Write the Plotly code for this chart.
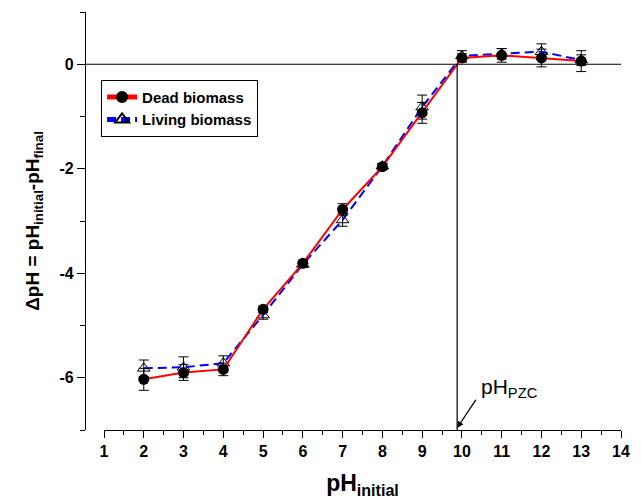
import plotly.graph_objects as go

ph_initial = [2, 3, 4, 5, 6, 7, 8, 9, 10, 11, 12, 13]
dead = [-6.03, -5.90, -5.84, -4.69, -3.81, -2.78, -1.96, -0.93, 0.12, 0.17, 0.12, 0.06]
dead_err = [0.21, 0.15, 0.12, 0.06, 0.06, 0.11, 0.06, 0.20, 0.08, 0.13, 0.17, 0.20]
living = [-5.82, -5.80, -5.72, -4.80, -3.83, -2.98, -1.95, -0.82, 0.16, 0.20, 0.24, 0.08]
living_err = [0.16, 0.20, 0.14, 0.08, 0.06, 0.12, 0.05, 0.23, 0.10, 0.10, 0.15, 0.10]
ph_pzc = 9.88
y_tickvals = [0, -2, -4, -6]
y_ticktext = ["0", "-2", "-4", "-6"]

FONT = "Liberation Sans, Arial, sans-serif"

fig = go.Figure()

fig.add_trace(go.Scatter(
    x=ph_initial, y=living, name="Living biomass", mode="lines+markers",
    line=dict(color="#0000ff", width=2, dash="9px,5px"),
    marker=dict(symbol="triangle-up-open", size=11, color="black", line=dict(width=1, color="black")),
    error_y=dict(type="data", array=living_err, color="black", thickness=1, width=5),
    legendrank=2,
))
fig.add_trace(go.Scatter(
    x=ph_initial, y=dead, name="Dead biomass", mode="lines+markers",
    line=dict(color="#ff0000", width=2),
    marker=dict(symbol="circle", size=11, color="black"),
    error_y=dict(type="data", array=dead_err, color="black", thickness=1, width=5),
    legendrank=1,
))

# zero line from y axis to right end
fig.add_shape(type="line", xref="paper", yref="y", x0=0, x1=1, y0=0, y1=0,
              line=dict(color="black", width=1.2))
# pH_PZC vertical line
fig.add_shape(type="line", xref="x", yref="y", x0=ph_pzc, x1=ph_pzc, y0=0, y1=-7,
              line=dict(color="black", width=1.2))

fig.add_annotation(x=ph_pzc, y=-6.96, xref="x", yref="y", text=" ", showarrow=True,
                   ax=20, ay=-30, arrowhead=2, arrowsize=1, arrowwidth=1.3, arrowcolor="black",
                   font=dict(size=1))
fig.add_annotation(x=10.43, y=-6.2, xref="x", yref="y", text="pH<sub>PZC</sub>", showarrow=False,
                   xanchor="left", yanchor="middle",
                   font=dict(family=FONT, size=21, color="black"))

# page body has an 8px margin: shrink figure so the plot lands at the reference position
fig.update_layout(
    width=633, height=491,
    margin=dict(l=77, r=20, t=4, b=69, autoexpand=False),
    plot_bgcolor="white", paper_bgcolor="white",
    showlegend=True,
    legend=dict(x=0.03, y=0.838, xanchor="left", yanchor="top",
                bordercolor="black", borderwidth=1, bgcolor="white",
                font=dict(family=FONT, size=15, color="black", weight="bold"),
                tracegroupgap=0, itemsizing="constant"),
    xaxis=dict(
        domain=[19 / 536, 1], range=[1, 14], showgrid=False, zeroline=False, automargin=False,
        showline=True, linecolor="black", linewidth=1.3,
        ticks="outside", tickmode="linear", tick0=1, dtick=1, ticklen=7, tickwidth=1.3, tickcolor="black",
        minor=dict(ticks="outside", dtick=0.5, tick0=1, ticklen=4, tickwidth=1.3, tickcolor="black"),
        tickfont=dict(family=FONT, size=16, color="black", weight="bold"),
        title=dict(text="pH<sub>initial</sub>", standoff=15,
                   font=dict(family=FONT, size=23, color="black", weight="bold")),
    ),
    yaxis=dict(
        anchor="free", position=0, range=[-7, 1], showgrid=False, zeroline=False, automargin=False,
        showline=True, linecolor="black", linewidth=1.3,
        ticks="outside", tickmode="array", tickvals=y_tickvals, ticktext=y_ticktext,
        ticklen=8, tickwidth=1.3, tickcolor="black",
        minor=dict(ticks="outside", tickmode="linear", dtick=1, tick0=1, ticklen=5, tickwidth=1.3, tickcolor="black"),
        tickfont=dict(family=FONT, size=16, color="black", weight="bold"),
        title=dict(text="ΔpH = pH<sub>initial</sub>-pH<sub>final</sub>", standoff=13,
                   font=dict(family=FONT, size=19, color="black", weight="bold")),
    ),
)

fig.write_html("out.html")
